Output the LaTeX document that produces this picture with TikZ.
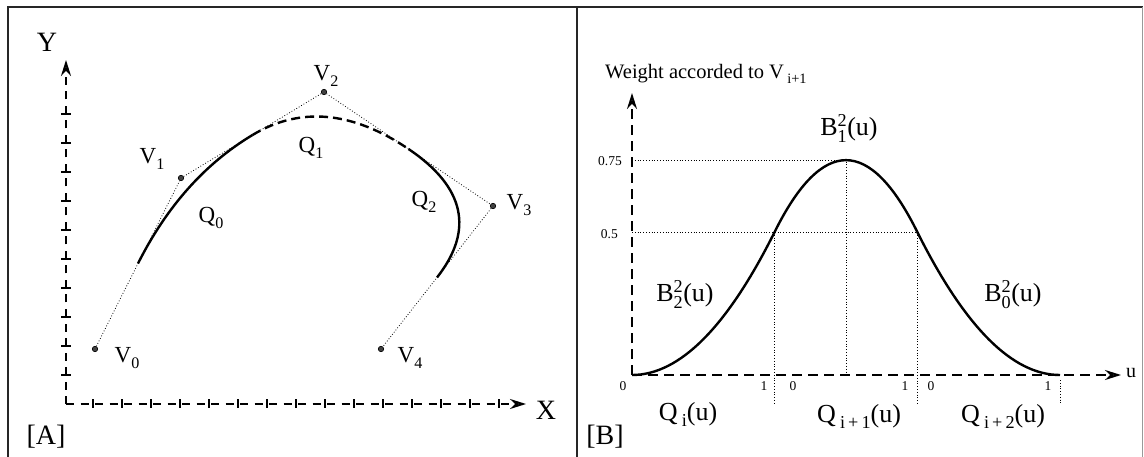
\documentclass[tikz,border=0pt]{standalone}
\usepackage{amsmath}
\usepackage{fontspec}
\setmainfont{Liberation Serif}
\usetikzlibrary{calc,arrows.meta}
\newcommand{\lowsub}[1]{\raisebox{-0.5ex}{\fontsize{0.7em}{1em}\selectfont #1}}
\newcommand{\supsub}[2]{\ensuremath{^{\text{#1}}_{\text{#2}}}}
\begin{document}
\begin{tikzpicture}[x=1pt,y=-1pt,
  frame/.style={line width=1.6pt, black!85},
  axisA/.style={line width=2.2pt, dash pattern=on 8pt off 6.5pt},
  axisB/.style={line width=2.2pt, dash pattern=on 10pt off 6pt},
  tip/.style={-{Stealth[length=16pt,width=10pt,open,line width=2pt]}},
  ctrl/.style={line width=0.8pt, dotted},
  curve/.style={line width=2.4pt},
  vdot/.style={circle, fill=black!75, draw=black, line width=0.6pt, inner sep=0pt, minimum size=5.5pt},
  axlab/.style={font=\fontsize{28}{32}\selectfont, inner sep=0pt},
  biglab/.style={font=\fontsize{23}{27}\selectfont, inner sep=0pt},
  blab/.style={font=\fontsize{26}{30}\selectfont, inner sep=0pt},
  small/.style={font=\fontsize{13.5}{15}\selectfont, inner sep=0pt},
  mid/.style={font=\fontsize{20.5}{24}\selectfont, inner sep=0pt},
]
\useasboundingbox (0,0) rectangle (1144,457);
% frame
\coordinate (f1) at (8,457); \coordinate (f2) at (8,7); \coordinate (f3) at (1143,7);
\coordinate (f4) at (577,7); \coordinate (f5) at (577,457);
\coordinate (f6) at (1142,7); \coordinate (f7) at (1142,457);
\draw[frame] (f1) -- (f2) -- (f3);
\draw[frame] (f4) -- (f5);
\draw[line width=0.8pt, black!40] (f6) -- (f7);

% ================= Panel A =================
\coordinate (oA) at (66,404);
\coordinate (yA) at (66,60);
\coordinate (xA) at (526,404);
\draw[axisA, tip] (oA) -- (yA);
\draw[axisA, tip] (oA) -- (xA);
\foreach \t in {93,122,...,500} \draw[line width=1.2pt] (\t,399) -- (\t,408);
\foreach \t in {375,346,...,90} \draw[line width=1.2pt] (61,\t) -- (71,\t);
\node[axlab] (ly) at (47,42) {Y};
\node[axlab] (lx) at (546,410) {X};
\node[axlab] (la) at (46,437) {[A]};

\node[vdot] (v0) at (95,349) {};
\node[vdot] (v1) at (181,178) {};
\node[vdot] (v2) at (324,92) {};
\node[vdot] (v3) at (493,206) {};
\node[vdot] (v4) at (381,349) {};
\draw[ctrl] (v0) -- (v1) -- (v2) -- (v3) -- (v4);

\coordinate (m01) at ($(v0)!0.5!(v1)$);
\coordinate (m12) at ($(v1)!0.5!(v2)$);
\coordinate (m23) at ($(v2)!0.5!(v3)$);
\coordinate (m34) at ($(v3)!0.5!(v4)$);
\draw[curve] (m01) .. controls ($(m01)!2/3!(v1)$) and ($(m12)!2/3!(v1)$) .. (m12);
\draw[curve, dash pattern=on 9pt off 5pt] (m12) .. controls ($(m12)!2/3!(v2)$) and ($(m23)!2/3!(v2)$) .. (m23);
\draw[curve] (m23) .. controls ($(m23)!2/3!(v3)$) and ($(m34)!2/3!(v3)$) .. (m34);

\node[biglab] (lv0) at (127,358) {V\lowsub{0}};
\node[biglab] (lv1) at (152,159) {V\lowsub{1}};
\node[biglab] (lv2) at (326,76) {V\lowsub{2}};
\node[biglab] (lv3) at (519,205) {V\lowsub{3}};
\node[biglab] (lv4) at (410,358) {V\lowsub{4}};
\node[biglab] (lq0) at (211,218) {Q\lowsub{0}};
\node[biglab] (lq1) at (311,148) {Q\lowsub{1}};
\node[biglab] (lq2) at (424,202) {Q\lowsub{2}};

% ================= Panel B =================
\coordinate (oB) at (632,375);
\coordinate (yB) at (632,93);
\coordinate (xB) at (1121,375);
\coordinate (k3) at (1060,375);
\coordinate (h1) at (774.6,232);
\coordinate (h2) at (917.3,232);
\coordinate (peak) at (846,160);
\coordinate (pk0) at (846,375);
\coordinate (y75) at (632,160);
\coordinate (y50) at (632,232);
\coordinate (c1) at (703.3,375);
\coordinate (c2) at (846,88.3);
\coordinate (c3) at (988.7,375);
\coordinate (d1) at (774.6,404);
\coordinate (d2) at (917.3,404);
\coordinate (d3) at (1060,404);
\coordinate (d3t) at (1060,380);

% dotted guides
\draw[ctrl] (y75) -- (peak) -- (pk0);
\draw[ctrl] (y50) -- (h2) -- (d2);
\draw[ctrl] (h1) -- (d1);
\draw[ctrl] (d3t) -- (d3);

\draw[axisB, tip] (oB) -- (yB);
\draw[axisB, tip] (oB) -- (xB);

% basis curve
\draw[curve] (oB) .. controls ($(oB)!2/3!(c1)$) and ($(h1)!2/3!(c1)$) .. (h1)
  .. controls ($(h1)!2/3!(c2)$) and ($(h2)!2/3!(c2)$) .. (h2)
  .. controls ($(h2)!2/3!(c3)$) and ($(k3)!2/3!(c3)$) .. (k3);

\node[mid, anchor=west] (lw) at (605,74) {Weight accorded to V\,\lowsub{i+1}};
\node[small, anchor=east] (l75) at (622,161) {0.75};
\node[small, anchor=east] (l50) at (618,234) {0.5};
\node[small] (t0) at (623,386) {0};
\node[small] (t1) at (764,386) {1};
\node[small] (t2) at (793,386) {0};
\node[small] (t3) at (905,386) {1};
\node[small] (t4) at (931,386) {0};
\node[small] (t5) at (1048,386) {1};
\node[font=\fontsize{20}{22}\selectfont, inner sep=0pt] (lu) at (1131,373) {u};

\node[blab] (lb1) at (849,128) {B\supsub{2}{1}(u)};
\node[blab] (lb2) at (685,294) {B\supsub{2}{2}(u)};
\node[blab] (lb0) at (1013,295) {B\supsub{2}{0}(u)};
\node[blab] (lqa) at (688,414) {Q\,\lowsub{i}(u)};
\node[blab] (lqb) at (859,416) {Q\,\lowsub{i\,+\,1}(u)};
\node[blab] (lqc) at (1003,416) {Q\,\lowsub{i\,+\,2}(u)};
\node[axlab] (lb) at (605,437) {[B]};
\end{tikzpicture}
\end{document}
